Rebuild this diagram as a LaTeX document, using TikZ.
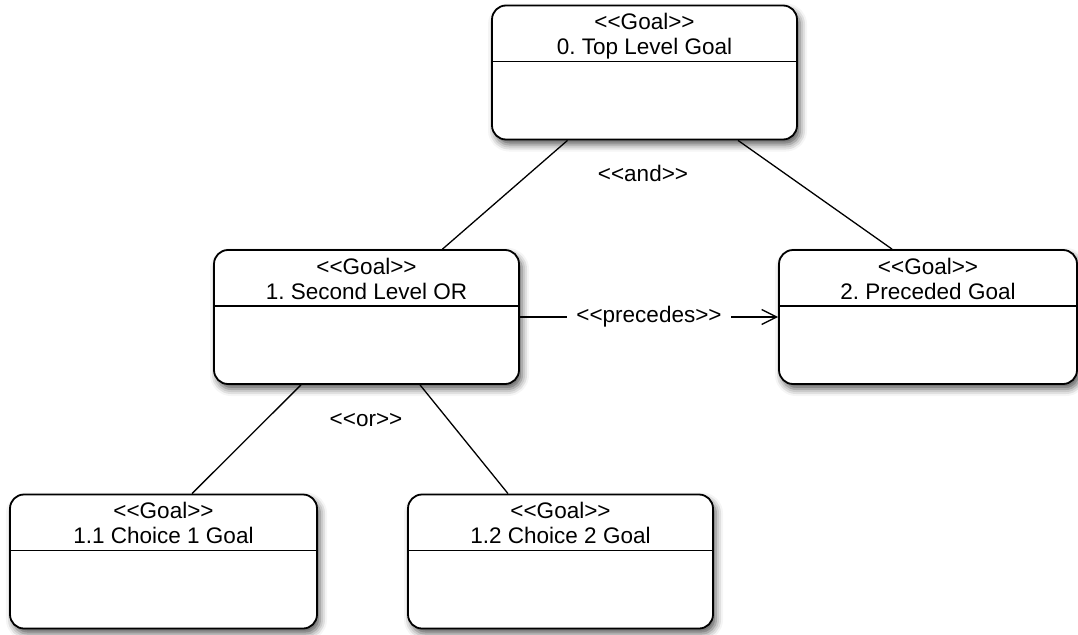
\documentclass[tikz,border=0pt]{standalone}
\usepackage{fontspec}
\setmainfont{Liberation Sans}[Ligatures=TeXOff]
\usetikzlibrary{arrows.meta,shadows.blur}

\tikzset{
  goalbox/.style={draw=black, line width=1.8pt, rounded corners=14pt, fill=white,
    minimum width=305pt, minimum height=134pt, inner sep=0pt,
    blur shadow={shadow xshift=3pt, shadow yshift=-5pt, shadow blur radius=7pt,
                 shadow opacity=65}},
  divider/.style={line width=1.5pt},
  lbl/.style={font=\fontsize{22.5}{26}\selectfont, inner sep=0pt},
  rel/.style={font=\fontsize{22.5}{26}\selectfont, fill=white, inner xsep=9pt, inner ysep=4pt},
  conn/.style={line width=1.3pt},
}

% #1 name, #2 x, #3 y (centre), #4 width, #5 title
\newcommand\goalnode[5]{%
  \node[goalbox, minimum width=#4] (#1) at (#2,#3) {};
  \draw[divider] ([yshift=-57pt]#1.north west) -- ([yshift=-57pt]#1.north east);
  \node[lbl, anchor=base] (#1-st) at ([yshift=-25pt]#1.north) {<<Goal>>};
  \node[lbl, anchor=base] (#1-nm) at ([yshift=-50pt]#1.north) {#5};
}

\begin{document}
\frenchspacing
\begin{tikzpicture}[x=1pt, y=-1pt]
  \useasboundingbox (0,0) rectangle (1078,634);

  \goalnode{top}{644.5}{72.5}{305pt}{0. Top Level Goal}
  \goalnode{sec}{366.5}{317}{305pt}{1. Second Level OR}
  \goalnode{pre}{928}{317}{298pt}{2. Preceded Goal}
  \goalnode{ch1}{163.5}{561.5}{307pt}{1.1 Choice 1 Goal}
  \goalnode{ch2}{560.5}{561.5}{305pt}{1.2 Choice 2 Goal}

  % and-decomposition of the top goal
  \draw[conn] ([xshift=-77pt]top.south) -- ([xshift=76pt]sec.north);
  \draw[conn] ([xshift=93.5pt]top.south) -- ([xshift=-36pt]pre.north);
  \node[rel] (andlbl) at (643,173) {<<and>>};

  % or-decomposition of the second level goal
  \draw[conn] ([xshift=-65.5pt]sec.south) -- ([xshift=28.5pt]ch1.north);
  \draw[conn] ([xshift=53.5pt]sec.south) -- ([xshift=-52.5pt]ch2.north);
  \node[rel] (orlbl) at (366,420) {<<or>>};

  % ordering between sibling goals
  \draw[conn, -{Straight Barb[length=15pt, width=15pt, line width=1.3pt]}]
    (sec.east) -- node[rel] (prelbl) {<<precedes>>} (pre.west);
\end{tikzpicture}
\end{document}
